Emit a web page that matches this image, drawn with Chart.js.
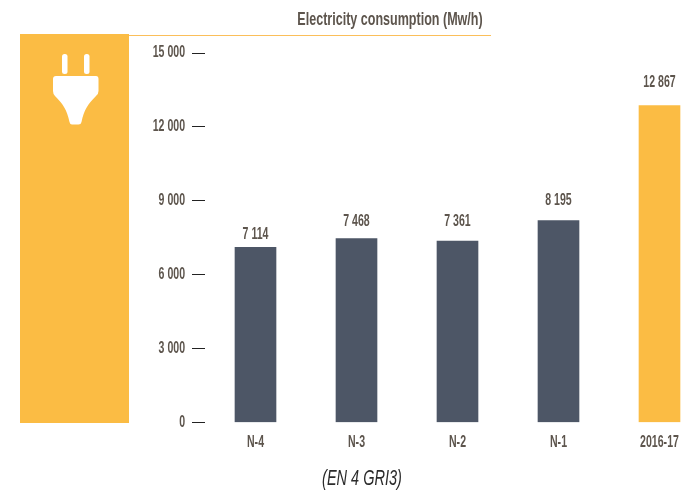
<!DOCTYPE html>
<html>
<head>
<meta charset="utf-8">
<title>Electricity consumption</title>
<script src="https://cdn.jsdelivr.net/npm/chart.js@4"></script>
<style>
  html, body { margin: 0; padding: 0; background: #fff; overflow: hidden; }
  #frame { position: relative; width: 681px; height: 495px; overflow: hidden; }
  canvas { position: absolute; left: 0; top: 0; }
</style>
</head>
<body>
<div id="frame"><canvas id="chart" width="710" height="495" style="width:710px;height:495px"></canvas></div>
<script>
const categories = ["N-4", "N-3", "N-2", "N-1", "2016-17"];
const consumption = [7114, 7468, 7361, 8195, 12867];
const barColors = ["#4d5666", "#4d5666", "#4d5666", "#4d5666", "#fbbc44"];
const labelGaps = [13, 17, 20, 20, 23];
const chartTitle = "Electricity consumption (Mw/h)";
const caption = "(EN 4 GRI3)";

const FACE = '"Liberation Sans", sans-serif';
const TEXT = "#5d554d";
const ORANGE = "#fbbc44";
const CONDENSE = 0.66;

// Groups thousands with a space: 12867 -> "12 867"
const spaced = v => String(v).replace(/\B(?=(\d{3})+$)/g, " ");

// The typeface is only available at normal width, so all canvas text is squeezed horizontally
function condenseText(c) {
  if (c.condensed) return;
  c.condensed = true;
  const plain = c.fillText.bind(c);
  c.fillText = (text, x, y) => {
    c.save();
    c.translate(x, y);
    c.scale(CONDENSE, 1);
    plain(text, 0, 0);
    c.restore();
  };
}

// Orange side panel with the plug pictogram, title rule and free-standing texts
const decorations = {
  id: "decorations",
  beforeDraw(chart) {
    const c = chart.ctx;
    condenseText(c);
    c.save();
    c.fillStyle = ORANGE;
    c.fillRect(20, 34, 109, 389);
    c.strokeStyle = "#fbbf5a";
    c.lineWidth = 1;
    c.beginPath(); c.moveTo(129, 35.5); c.lineTo(491, 35.5); c.stroke();

    // plug
    c.fillStyle = "#fff";
    c.beginPath(); c.roundRect(62, 54, 5.5, 20, 2.5); c.fill();
    c.beginPath(); c.roundRect(84, 54, 5.5, 20, 2.5); c.fill();
    c.beginPath();
    c.moveTo(56, 76);
    c.lineTo(96, 76);
    c.quadraticCurveTo(98.5, 76, 98.5, 79);
    c.lineTo(98.5, 91);
    c.quadraticCurveTo(98.5, 94, 96, 96);
    c.bezierCurveTo(88, 104, 84, 110, 81.5, 122);
    c.quadraticCurveTo(81, 124.5, 78.5, 124.5);
    c.lineTo(72, 124.5);
    c.quadraticCurveTo(70, 124.5, 69.5, 122);
    c.bezierCurveTo(67, 110, 63, 104, 55, 96);
    c.quadraticCurveTo(53, 94, 53, 91);
    c.lineTo(53, 79);
    c.quadraticCurveTo(53, 76, 56, 76);
    c.closePath();
    c.fill();

    c.textAlign = "center";
    c.textBaseline = "middle";
    c.fillStyle = TEXT;
    c.font = "bold 19px " + FACE;
    c.fillText(chartTitle, 390, 20);
    c.fillStyle = "#2b2b2b";
    c.font = "italic 22px " + FACE;
    c.fillText(caption, 362, 479);
    c.restore();
  }
};

// Value printed above every bar
const valueLabels = {
  id: "valueLabels",
  afterDatasetsDraw(chart) {
    const c = chart.ctx;
    const meta = chart.getDatasetMeta(0);
    c.save();
    c.textAlign = "center";
    c.textBaseline = "middle";
    c.fillStyle = TEXT;
    c.font = "bold 16px " + FACE;
    meta.data.forEach((bar, i) => {
      c.fillText(spaced(consumption[i]), bar.x, bar.y - labelGaps[i]);
    });
    c.restore();
  }
};

new Chart(document.getElementById("chart"), {
  type: "bar",
  data: {
    labels: categories,
    datasets: [{ data: consumption, backgroundColor: barColors, barThickness: 41 }]
  },
  plugins: [decorations, valueLabels],
  options: {
    responsive: false,
    animation: false,
    layout: { padding: { top: 53, bottom: 42.5 } },
    plugins: { legend: { display: false }, title: { display: false }, tooltip: { enabled: false } },
    scales: {
      x: {
        grid: { display: false },
        border: { display: false },
        ticks: { color: TEXT, font: { family: FACE, size: 16, weight: "bold" }, padding: 2, maxRotation: 0, autoSkip: false },
        afterFit(s) { s.height = 30; }
      },
      y: {
        min: 0,
        max: 15000,
        border: { display: false },
        grid: { drawOnChartArea: false, drawTicks: true, tickLength: 13, tickColor: "#222", tickWidth: 1 },
        ticks: {
          stepSize: 3000,
          padding: 7,
          color: TEXT,
          font: { family: FACE, size: 16, weight: "bold" },
          callback: v => spaced(v)
        },
        afterFit(s) { s.width = 205; }
      }
    }
  }
});
</script>
</body>
</html>
